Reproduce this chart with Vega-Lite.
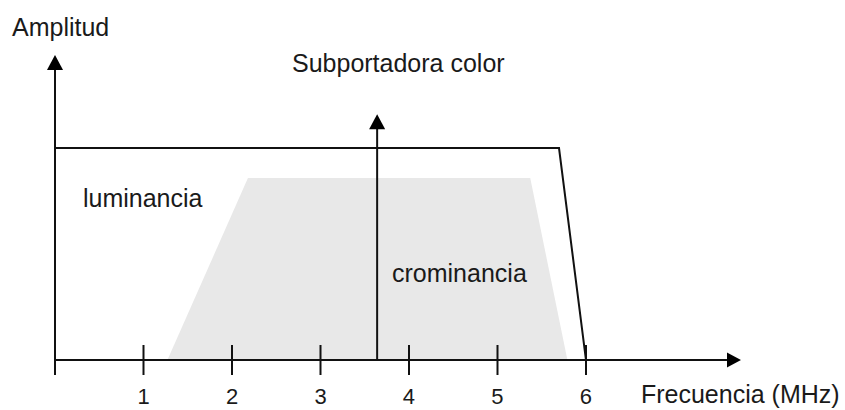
{
  "$schema": "https://vega.github.io/schema/vega-lite/v6.json",
  "width": 845,
  "height": 410,
  "autosize": "none",
  "padding": 0,
  "background": "white",
  "config": {
    "view": {"stroke": null},
    "axis": {"disable": true},
    "text": {"font": "Liberation Sans", "fill": "#1a1a1a"}
  },
  "datasets": {
    "chroma": [
      {"f": 1.27, "a": 0},
      {"f": 2.18, "a": 0.858},
      {"f": 5.37, "a": 0.858},
      {"f": 5.79, "a": 0}
    ],
    "luma": [
      {"f": 0, "a": 1},
      {"f": 5.695, "a": 1},
      {"f": 6.0, "a": 0}
    ],
    "shafts": [
      {"name": "frecuencia", "f": 0, "a": 0, "f2": 7.593, "a2": 0},
      {"name": "amplitud", "f": 0, "a": 0, "f2": 0, "a2": 1.368},
      {"name": "subportadora", "f": 3.64, "a": 0, "f2": 3.64, "a2": 1.09}
    ],
    "headsUp": [
      {"name": "amplitud", "f": 0, "a": 1.4033},
      {"name": "subportadora", "f": 3.64, "a": 1.124}
    ],
    "headsRight": [
      {"name": "frecuencia", "f": 7.672, "a": 0}
    ],
    "ticks": [
      {"f": 0, "a": -0.0708, "a2": 0},
      {"f": 1, "a": -0.0708, "a2": 0.0708},
      {"f": 2, "a": -0.0708, "a2": 0.0708},
      {"f": 3, "a": -0.0708, "a2": 0.0708},
      {"f": 4, "a": -0.0708, "a2": 0.0708},
      {"f": 5, "a": -0.0708, "a2": 0.0708},
      {"f": 6, "a": -0.0708, "a2": 0.0708}
    ],
    "tickLabels": [
      {"f": 1, "a": -0.2075, "label": "1"},
      {"f": 2, "a": -0.2075, "label": "2"},
      {"f": 3, "a": -0.2075, "label": "3"},
      {"f": 4, "a": -0.2075, "label": "4"},
      {"f": 5, "a": -0.2075, "label": "5"},
      {"f": 6, "a": -0.2075, "label": "6"}
    ],
    "captions": [
      {"f": -0.486, "a": 1.528, "label": "Amplitud"},
      {"f": 2.678, "a": 1.358, "label": "Subportadora color"},
      {"f": 0.316, "a": 0.7217, "label": "luminancia"},
      {"f": 3.808, "a": 0.368, "label": "crominancia"},
      {"f": 6.621, "a": -0.2028, "label": "Frecuencia (MHz)"}
    ]
  },
  "encoding": {
    "x": {"field": "f", "type": "quantitative", "scale": {"domain": [-0.6215, 8.9266], "nice": false, "zero": false}},
    "y": {"field": "a", "type": "quantitative", "scale": {"domain": [-0.2358, 1.6981], "nice": false, "zero": false}}
  },
  "layer": [
    {
      "data": {"name": "chroma"},
      "mark": {"type": "area", "fill": "#e8e8e8", "stroke": null},
      "encoding": {"y2": {"datum": 0}}
    },
    {
      "data": {"name": "luma"},
      "mark": {"type": "line", "stroke": "#111111", "strokeWidth": 2},
      "encoding": {}
    },
    {
      "data": {"name": "shafts"},
      "mark": {"type": "rule", "stroke": "#111111", "strokeWidth": 2},
      "encoding": {
        "x2": {"field": "f2"},
        "y2": {"field": "a2"}
      }
    },
    {
      "data": {"name": "ticks"},
      "mark": {"type": "rule", "stroke": "#111111", "strokeWidth": 2},
      "encoding": {"y2": {"field": "a2"}}
    },
    {
      "data": {"name": "headsUp"},
      "mark": {"type": "point", "filled": true, "fill": "#000000", "opacity": 1, "strokeWidth": 0, "shape": "M0,-1L1.07,1L-1.07,1Z", "size": 225},
      "encoding": {}
    },
    {
      "data": {"name": "headsRight"},
      "mark": {"type": "point", "filled": true, "fill": "#000000", "opacity": 1, "strokeWidth": 0, "shape": "M1,0L-1,-1.07L-1,1.07Z", "size": 196},
      "encoding": {}
    },
    {
      "data": {"name": "tickLabels"},
      "mark": {"type": "text", "fontSize": 22, "align": "center", "baseline": "alphabetic"},
      "encoding": {"text": {"field": "label"}}
    },
    {
      "data": {"name": "captions"},
      "mark": {"type": "text", "fontSize": 25, "align": "left", "baseline": "alphabetic"},
      "encoding": {"text": {"field": "label"}}
    }
  ]
}
